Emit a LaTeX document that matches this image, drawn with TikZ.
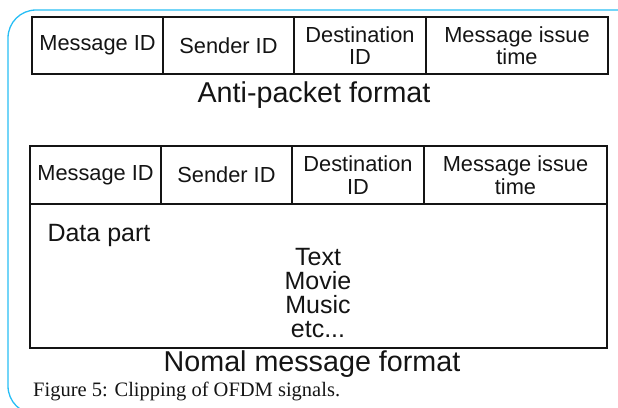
\documentclass[tikz,border=0pt]{standalone}
\usepackage{fontspec}
\setmainfont{Liberation Sans}
\newfontfamily\captionfont{Liberation Serif}
\usepackage{xcolor}
\usetikzlibrary{positioning}

\definecolor{framecyan}{RGB}{40,190,245}
\definecolor{inkgray}{RGB}{20,20,20}

\tikzset{
    cell/.style={draw=inkgray, line width=2pt, inner sep=0pt, outer sep=0pt,
        align=center, text=inkgray, font=\fontsize{21.8}{22.5}\selectfont},
    formattitle/.style={text=inkgray, font=\fontsize{28.7}{30}\selectfont},
    plaintext/.style={text=inkgray, align=center, font=\fontsize{25}{23.7}\selectfont}
}

\begin{document}
\begin{tikzpicture}[x=1pt, y=-1pt]

    % Page and frame
    \useasboundingbox (0,0) rectangle (618,407);
    \clip (0,0) rectangle (618,407);
    \draw[framecyan, line width=1.3pt, rounded corners=28pt] (8,10) rectangle (645,414);

    % Anti-packet format
    \node[cell, minimum width=131pt, minimum height=57pt, anchor=north west] (amsg) at (32,17) {Message ID};
    \node[cell, minimum width=131pt, minimum height=57pt, right=0pt of amsg] (asnd) {Sender ID};
    \node[cell, minimum width=132pt, minimum height=57pt, right=0pt of asnd] (adst) {Destination\\ID};
    \node[cell, minimum width=182pt, minimum height=57pt, right=0pt of adst] (atim) {Message issue\\time};
    \node[formattitle] (atitle) at (314,95) {Anti-packet format};

    % Normal message format
    \node[cell, minimum width=131pt, minimum height=58pt, anchor=north west] (nmsg) at (30,146) {Message ID};
    \node[cell, minimum width=131pt, minimum height=58pt, right=0pt of nmsg] (nsnd) {Sender ID};
    \node[cell, minimum width=132pt, minimum height=58pt, right=0pt of nsnd] (ndst) {Destination\\ID};
    \node[cell, minimum width=183pt, minimum height=58pt, right=0pt of ndst] (ntim) {Message issue\\time};
    \node[cell, minimum width=577pt, minimum height=144pt, anchor=north west] (ndata) at (30,204) {};
    \node[plaintext, anchor=west] (dpart) at (44,235) {Data part};
    \node[plaintext] (dlist) at (318,293) {Text\\Movie\\Music\\etc...};
    \node[formattitle] (ntitle) at (312,364) {Nomal message format};

    % Caption
    \node[anchor=west, inner sep=0pt, text=inkgray, font=\captionfont\fontsize{20.5}{22}\selectfont] (caption) at (33,391) {Figure 5: Clipping of OFDM signals.};

\end{tikzpicture}
\end{document}
